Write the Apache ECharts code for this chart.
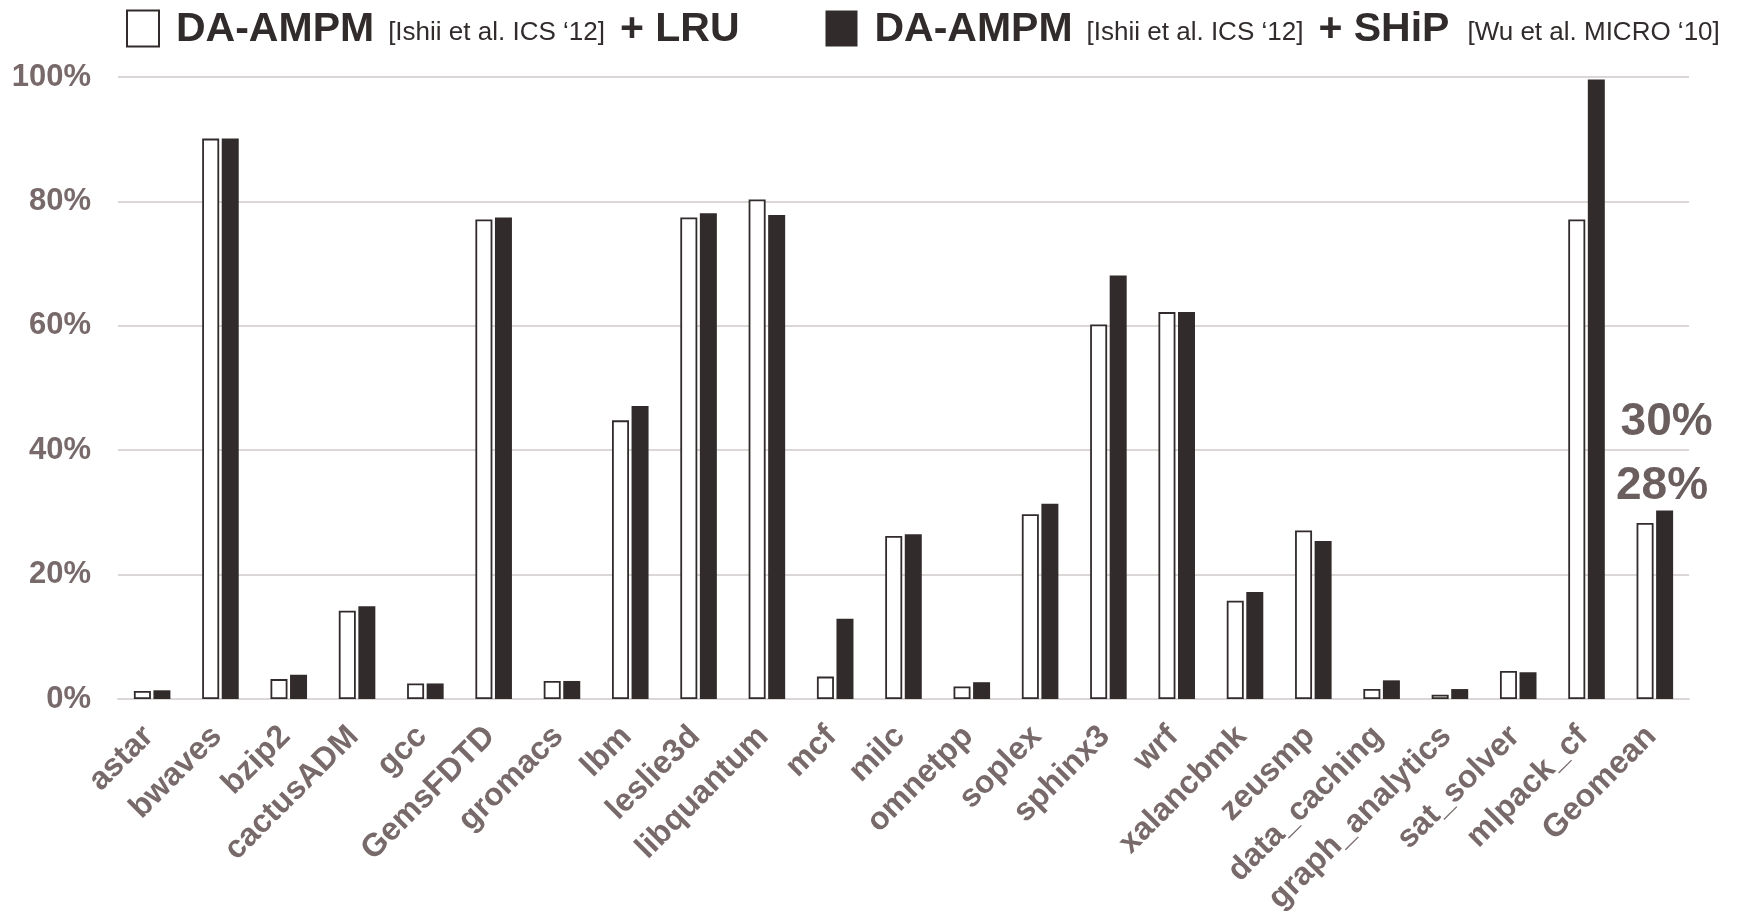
<!DOCTYPE html>
<html>
<head>
<meta charset="utf-8">
<script src="https://cdn.jsdelivr.net/npm/echarts@6/dist/echarts.min.js"></script>
<style>
html,body{margin:0;padding:0;background:#fff;}
#c{width:1744px;height:913px;}
</style>
</head>
<body>
<div id="c"></div>
<script>
const categories = ['astar','bwaves','bzip2','cactusADM','gcc','GemsFDTD','gromacs','lbm','leslie3d','libquantum','mcf','milc','omnetpp','soplex','sphinx3','wrf','xalancbmk','zeusmp','data_caching','graph_analytics','sat_solver','mlpack_cf','Geomean'];
const lruValues = [1.3, 90.1, 3.2, 14.2, 2.5, 77.1, 2.9, 44.8, 77.4, 80.3, 3.6, 26.2, 2.0, 29.7, 60.2, 62.2, 15.8, 27.1, 1.6, 0.7, 4.5, 77.1, 28.3];
const shipValues = [1.4, 90.1, 3.9, 14.9, 2.5, 77.4, 2.9, 47.1, 78.1, 77.8, 12.9, 26.5, 2.7, 31.4, 68.1, 62.2, 17.2, 25.4, 3.0, 1.6, 4.3, 99.6, 30.3];
const yTicks = [0, 20, 40, 60, 80, 100];
const seriesNames = ['DA-AMPM + LRU', 'DA-AMPM + SHiP'];
const legendTexts = {
  'DA-AMPM + LRU': '{b|DA-AMPM}{s|[Ishii et al. ICS \u201812]}{p|+ LRU}',
  'DA-AMPM + SHiP': '{b|DA-AMPM}{s|[Ishii et al. ICS \u201812]}{p|+ SHiP}{s2|[Wu et al. MICRO \u201810]}'
};
const geoLabels = ['28%', '30%'];

const DARK = '#312b2b';
const GREY = '#786a6a';
const FONT = "'Liberation Sans', Arial, sans-serif";

const lastIdx = categories.length - 1;
function buildData(vals, which) {
  return vals.map((v, i) => {
    if (i !== lastIdx) return v;
    return {
      value: v,
      label: {
        show: true,
        position: 'top',
        distance: 0,
        formatter: geoLabels[which],
        fontSize: 46,
        fontWeight: 'bold',
        fontFamily: FONT,
        color: '#6b5e5e',
        offset: which === 0 ? [17, -14] : [2, -65]
      }
    };
  });
}

const chart = echarts.init(document.getElementById('c'), null, {renderer: 'canvas'});
chart.setOption({
  animation: false,
  backgroundColor: '#ffffff',
  textStyle: {fontFamily: FONT},
  legend: {
    left: 121,
    top: 4,
    itemWidth: 32,
    itemHeight: 36,
    itemGap: 86,
    icon: 'rect',
    data: seriesNames,
    formatter: name => legendTexts[name],
    textStyle: {
      color: DARK,
      fontFamily: FONT,
      rich: {
        b: {fontSize: 41, fontWeight: 'bold', color: DARK, fontFamily: FONT, padding: [2, 0, 0, 12]},
        s: {fontSize: 26, color: DARK, fontFamily: FONT, padding: [8, 15, 0, 14]},
        p: {fontSize: 41, fontWeight: 'bold', color: DARK, fontFamily: FONT, padding: [2, 0, 0, 0]},
        s2: {fontSize: 26, color: DARK, fontFamily: FONT, padding: [8, 0, 0, 18]}
      }
    }
  },
  grid: {left: 118, right: 55, top: 77, bottom: 214, containLabel: false, outerBoundsMode: 'none'},
  xAxis: {
    type: 'category',
    data: categories,
    axisLine: {show: true, lineStyle: {color: '#dcd7d7', width: 2}},
    axisTick: {show: false},
    axisLabel: {
      rotate: 45,
      interval: 0,
      margin: 29,
      padding: [0, 5, 0, 0],
      fontSize: 32,
      fontWeight: 'bold',
      color: GREY,
      fontFamily: FONT
    }
  },
  yAxis: {
    type: 'value',
    min: yTicks[0],
    max: yTicks[yTicks.length - 1],
    interval: 20,
    axisLine: {show: false},
    axisTick: {show: false},
    splitLine: {lineStyle: {color: '#dcd7d7', width: 2}},
    axisLabel: {
      formatter: '{value}%',
      margin: 27,
      fontSize: 31,
      fontWeight: 'bold',
      color: GREY,
      fontFamily: FONT
    }
  },
  series: [
    {
      name: seriesNames[0],
      type: 'bar',
      barWidth: 17,
      barGap: '15%',
      data: buildData(lruValues, 0),
      itemStyle: {color: '#ffffff', borderColor: DARK, borderWidth: 1.8}
    },
    {
      name: seriesNames[1],
      type: 'bar',
      barWidth: 17,
      barGap: '15%',
      data: buildData(shipValues, 1),
      itemStyle: {color: DARK, borderColor: DARK, borderWidth: 0}
    }
  ]
});
</script>
</body>
</html>
